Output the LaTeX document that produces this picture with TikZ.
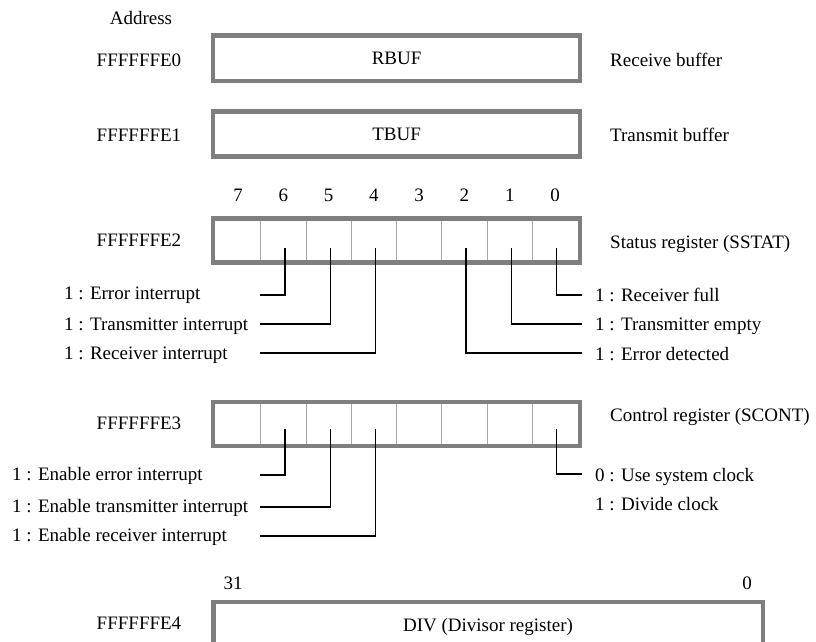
\documentclass[tikz,border=0pt]{standalone}
\usepackage{fontspec}
\setmainfont{Liberation Serif}
\definecolor{regborder}{HTML}{7F7F7F}
\definecolor{celldiv}{HTML}{A6A6A6}
\begin{document}
\begin{tikzpicture}[x=1pt,y=-1pt,
  reg/.style={draw=regborder, line width=4.5pt, inner sep=0pt},
  celldivider/.style={draw=celldiv, line width=1pt},
  lead/.style={draw=black, line width=1.3pt},
  txt/.style={inner sep=0pt, font=\fontsize{19}{22}\selectfont},
  lbl/.style={txt, anchor=base west},
  ctr/.style={txt, anchor=base}]
\useasboundingbox (0,0) rectangle (816,642);
\clip (0,0) rectangle (816,642);
\fill[white] (0,0) rectangle (816,642);

% ---------- header ----------
\node[ctr] (addr) at (141,24.3) {Address};

% ---------- RBUF ----------
\node[ctr] (a0) at (139,66.3) {FFFFFFE0};
\node[reg, minimum width=366.75pt, minimum height=45.5pt] (rbuf) at (396.6,58.25) {};
\node[ctr] (rbuft) at (396.6,64.6) {RBUF};
\node[lbl] (rbufl) at (610,66.3) {Receive buffer};

% ---------- TBUF ----------
\node[ctr] (a1) at (139,141.3) {FFFFFFE1};
\node[reg, minimum width=366.75pt, minimum height=45pt] (tbuf) at (396.6,134) {};
\node[ctr] (tbuft) at (396.6,140.6) {TBUF};
\node[lbl] (tbufl) at (610,141.3) {Transmit buffer};

% ---------- bit numbers ----------
\foreach \b in {0,...,7}
  \node[ctr] (bn\b) at ({215.5+45.27*(7.5-\b)},201.3) {\b};

% ---------- SSTAT ----------
\node[ctr] (a2) at (139,246.3) {FFFFFFE2};
\node[reg, minimum width=366.75pt, minimum height=44.2pt] (sstat) at (396.6,240.4) {};
\foreach \k in {1,...,7}
  \draw[celldivider] ({215.5+45.27*\k},220.6) -- ({215.5+45.27*\k},260.2);
\node[lbl] (sstatl) at (610,248.3) {Status register (SSTAT)};

\foreach \b in {0,1,2,4,5,6}
  \coordinate (s\b) at ({215.5+45.27*(7.5-\b)+1.5},248);

\coordinate (se6) at (260,295);
\coordinate (se5) at (260,324);
\coordinate (se4) at (260,353);
\coordinate (se0) at (582,295);
\coordinate (se1) at (582,324);
\coordinate (se2) at (582,353);
\foreach \b in {0,1,2,4,5,6}
  \draw[lead] (s\b) |- (se\b);

\node[lbl] (sl6) at (64,299) {1 : Error interrupt};
\node[lbl] (sl5) at (64,330) {1 : Transmitter interrupt};
\node[lbl] (sl4) at (64,359.5) {1 : Receiver interrupt};
\node[lbl] (sl0) at (595,301) {1 : Receiver full};
\node[lbl] (sl1) at (595,330.5) {1 : Transmitter empty};
\node[lbl] (sl2) at (595,360) {1 : Error detected};

% ---------- SCONT ----------
\node[ctr] (a3) at (139,429.3) {FFFFFFE3};
\node[reg, minimum width=366.75pt, minimum height=44pt] (scont) at (396.6,424) {};
\foreach \k in {1,...,7}
  \draw[celldivider] ({215.5+45.27*\k},404.2) -- ({215.5+45.27*\k},443.8);
\node[lbl] (scontl) at (610,421.3) {Control register (SCONT)};

\foreach \b in {0,4,5,6}
  \coordinate (c\b) at ({215.5+45.27*(7.5-\b)+1.5},429);
\coordinate (ce6) at (260,475);
\coordinate (ce5) at (260,507);
\coordinate (ce4) at (260,536);
\coordinate (ce0) at (582,474);
\foreach \b in {0,4,5,6}
  \draw[lead] (c\b) |- (ce\b);

\node[lbl] (cl6) at (12,480) {1 : Enable error interrupt};
\node[lbl] (cl5) at (12,512) {1 : Enable transmitter interrupt};
\node[lbl] (cl4) at (12,541) {1 : Enable receiver interrupt};
\node[lbl] (cl0) at (595,481) {0 : Use system clock};
\node[lbl] (cl0b) at (595,510) {1 : Divide clock};

% ---------- DIV ----------
\node[ctr] (b31) at (233,589.3) {31};
\node[ctr] (b0) at (747,589.3) {0};
\node[ctr] (a4) at (139,629.3) {FFFFFFE4};
\draw[reg] (213.25,602.2) rectangle (762.8,680);
\node[ctr] (divt) at (488,631) {DIV (Divisor register)};
\end{tikzpicture}
\end{document}
